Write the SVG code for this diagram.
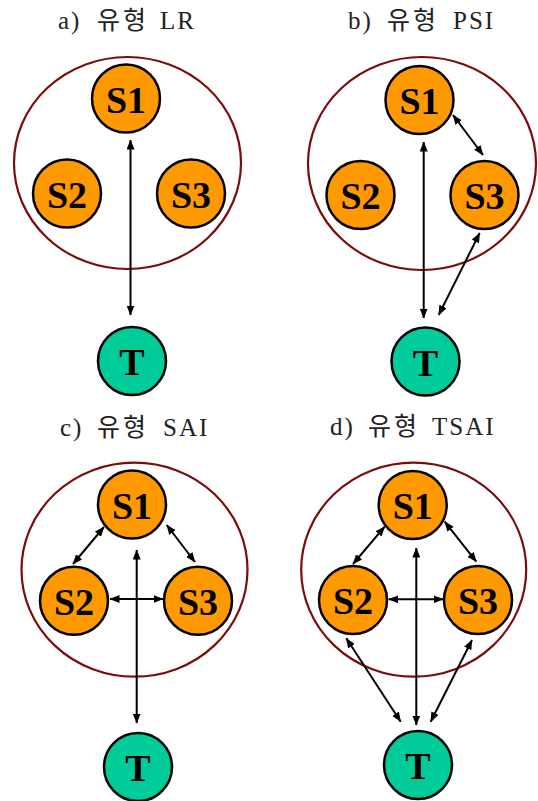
<svg xmlns="http://www.w3.org/2000/svg" width="538" height="801" viewBox="0 0 538 801">
<style>
.bg{fill:#ffffff}
.grp{fill:none;stroke:#7a0c0c;stroke-width:2.2}
.s circle{fill:#ff9900;stroke:#000;stroke-width:2.5}
.t circle{fill:#00cc99;stroke:#000;stroke-width:2.5}
.lbl{font-family:"Liberation Serif","Times New Roman",serif;font-weight:bold;font-size:38px;text-anchor:middle;fill:#000}
.title{font-family:"Liberation Serif","Noto Sans CJK KR",serif;font-size:25px;font-weight:normal;fill:#222;letter-spacing:2px}
.ko{font-family:"Noto Sans CJK KR",sans-serif;font-size:25px;font-weight:normal;letter-spacing:3px}
.con line{stroke:#000;stroke-width:2;marker-start:url(#ah);marker-end:url(#ah)}
</style>
<defs>
<marker id="ah" viewBox="0 0 10 8" refX="9.5" refY="4" markerWidth="10" markerHeight="8" markerUnits="userSpaceOnUse" orient="auto-start-reverse">
<path d="M0,0 L10,4 L0,8 z" fill="#000"/>
</marker>
</defs>
<rect class="bg" x="0" y="0" width="538" height="801"/>

<!-- titles -->
<text id="title-a" class="title" y="29"><tspan x="58">a)</tspan><tspan class="ko" x="97">유형</tspan><tspan x="160">LR</tspan></text>
<text id="title-b" class="title" y="29"><tspan x="348">b)</tspan><tspan class="ko" x="387">유형</tspan><tspan x="453">PSI</tspan></text>
<text id="title-c" class="title" y="436"><tspan x="60">c)</tspan><tspan class="ko" x="97">유형</tspan><tspan x="163">SAI</tspan></text>
<text id="title-d" class="title" y="435"><tspan x="330">d)</tspan><tspan class="ko" x="368">유형</tspan><tspan x="432">TSAI</tspan></text>

<!-- group ellipses -->
<g id="group-a"><ellipse class="grp" cx="127.5" cy="163" rx="113.5" ry="106"/></g>
<g id="group-b"><ellipse class="grp" cx="422" cy="163.5" rx="114" ry="106.5"/></g>
<g id="group-c"><ellipse class="grp" cx="134.5" cy="569.7" rx="113" ry="107"/></g>
<g id="group-d"><ellipse class="grp" cx="413.7" cy="569.7" rx="112.5" ry="107"/></g>

<!-- panel a nodes -->
<g id="a-S1" class="s"><circle cx="126" cy="98.5" r="34"/><text class="lbl" x="126" y="112.5">S1</text></g>
<g id="a-S2" class="s"><circle cx="67" cy="193.5" r="34"/><text class="lbl" x="67" y="207.5">S2</text></g>
<g id="a-S3" class="s"><circle cx="191" cy="193.5" r="34"/><text class="lbl" x="191" y="207.5">S3</text></g>
<g id="a-T" class="t"><circle cx="132" cy="361" r="34"/><text class="lbl" x="132" y="375">T</text></g>

<!-- panel b nodes -->
<g id="b-S1" class="s"><circle cx="419.5" cy="100" r="34"/><text class="lbl" x="419.5" y="114">S1</text></g>
<g id="b-S2" class="s"><circle cx="360.5" cy="195" r="34"/><text class="lbl" x="360.5" y="209">S2</text></g>
<g id="b-S3" class="s"><circle cx="484.5" cy="195" r="34"/><text class="lbl" x="484.5" y="209">S3</text></g>
<g id="b-T" class="t"><circle cx="425.5" cy="361.5" r="34"/><text class="lbl" x="425.5" y="375.5">T</text></g>

<!-- panel c nodes -->
<g id="c-S1" class="s"><circle cx="132" cy="504.5" r="34"/><text class="lbl" x="132" y="518.5">S1</text></g>
<g id="c-S2" class="s"><circle cx="74" cy="600.8" r="34"/><text class="lbl" x="74" y="614.8">S2</text></g>
<g id="c-S3" class="s"><circle cx="198" cy="600.8" r="34"/><text class="lbl" x="198" y="614.8">S3</text></g>
<g id="c-T" class="t"><circle cx="138" cy="767" r="34"/><text class="lbl" x="138" y="781">T</text></g>

<!-- panel d nodes -->
<g id="d-S1" class="s"><circle cx="412.7" cy="505" r="34"/><text class="lbl" x="412.7" y="519">S1</text></g>
<g id="d-S2" class="s"><circle cx="353" cy="600" r="34"/><text class="lbl" x="353" y="614">S2</text></g>
<g id="d-S3" class="s"><circle cx="478" cy="600" r="34"/><text class="lbl" x="478" y="614">S3</text></g>
<g id="d-T" class="t"><circle cx="418" cy="765" r="34"/><text class="lbl" x="418" y="779">T</text></g>

<!-- connectors -->
<g id="connectors" class="con">
<line x1="130.5" y1="140" x2="130.5" y2="315"/>

<line x1="423.7" y1="142" x2="423.7" y2="318"/>
<line x1="453" y1="115" x2="483" y2="155"/>
<line x1="438.7" y1="315" x2="479.7" y2="233"/>

<line x1="136.7" y1="550" x2="136.7" y2="723"/>
<line x1="104" y1="527" x2="73" y2="564"/>
<line x1="166.7" y1="525" x2="195" y2="562"/>
<line x1="110" y1="599" x2="163" y2="599"/>

<line x1="416.3" y1="548" x2="416.3" y2="725"/>
<line x1="384.7" y1="526.7" x2="353" y2="564"/>
<line x1="444.7" y1="521.7" x2="476.3" y2="561.7"/>
<line x1="388.7" y1="599.3" x2="443" y2="599.3"/>
<line x1="346.3" y1="638.3" x2="400.7" y2="721.7"/>
<line x1="472" y1="640" x2="430.7" y2="721.7"/>
</g>
</svg>
